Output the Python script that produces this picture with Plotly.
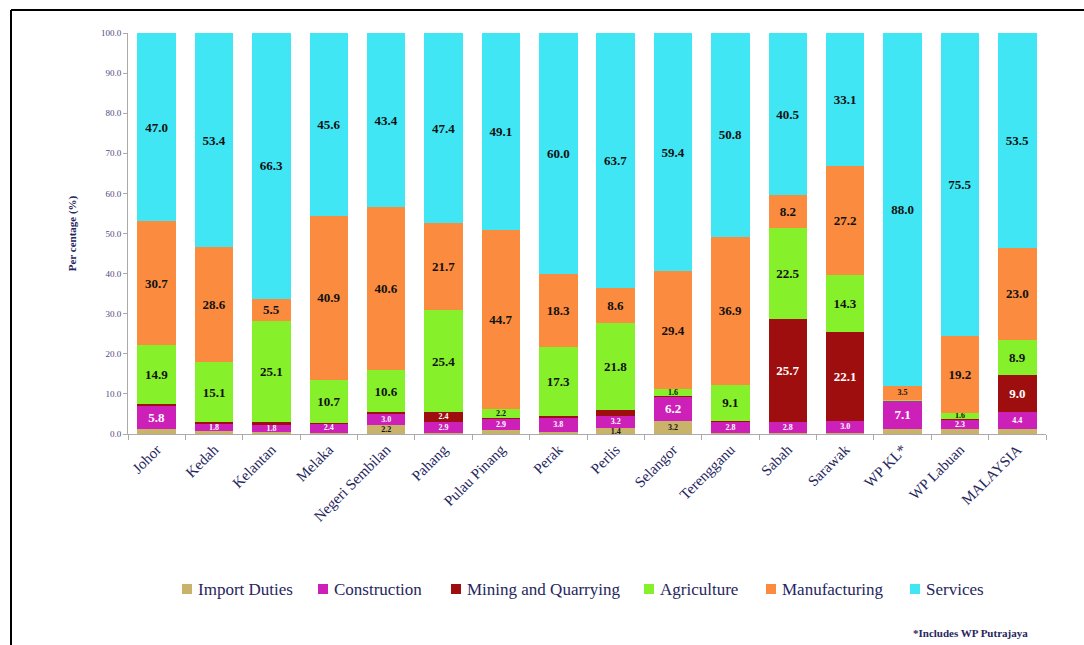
import plotly.graph_objects as go

states = ["Johor", "Kedah", "Kelantan", "Melaka", "Negeri Sembilan", "Pahang",
          "Pulau Pinang", "Perak", "Perlis", "Selangor", "Terengganu", "Sabah",
          "Sarawak", "WP KL*", "WP Labuan", "MALAYSIA"]

import_duties = [1.2, 0.7, 0.5, 0.3, 2.2, 0.2, 1.0, 0.4, 1.4, 3.2, 0.3, 0.3, 0.3, 1.3, 1.2, 1.2]
construction  = [5.8, 1.8, 1.8, 2.4, 3.0, 2.9, 2.9, 3.8, 3.2, 6.2, 2.8, 2.8, 3.0, 7.1, 2.3, 4.4]
mining        = [0.4, 0.4, 0.8, 0.1, 0.2, 2.4, 0.1, 0.2, 1.3, 0.2, 0.1, 25.7, 22.1, 0.0, 0.2, 9.0]
agriculture   = [14.9, 15.1, 25.1, 10.7, 10.6, 25.4, 2.2, 17.3, 21.8, 1.6, 9.1, 22.5, 14.3, 0.1, 1.6, 8.9]
manufacturing = [30.7, 28.6, 5.5, 40.9, 40.6, 21.7, 44.7, 18.3, 8.6, 29.4, 36.9, 8.2, 27.2, 3.5, 19.2, 23.0]
services      = [47.0, 53.4, 66.3, 45.6, 43.4, 47.4, 49.1, 60.0, 63.7, 59.4, 50.8, 40.5, 33.1, 88.0, 75.5, 53.5]

series_names = ["Import Duties", "Construction", "Mining and Quarrying",
                "Agriculture", "Manufacturing", "Services"]
series_values = [import_duties, construction, mining, agriculture, manufacturing, services]

# styling (kept apart from data)
colors = ["#C9B36A", "#CC20B8", "#9E0E0E", "#86F02A", "#FB8B3E", "#40E6F4"]
text_colors = ["#111111", "#FFFFFF", "#FFFFFF", "#111111", "#111111", "#111111"]
legend_marker_px = [182, 318, 451, 644, 766, 910]

SERIF = "Liberation Serif"
NAVY = "#26265e"

fig = go.Figure()
for name, vals, color, tcolor in zip(series_names, series_values, colors, text_colors):
    texts = [f"{v:.1f}" if v >= 1.4 else "" for v in vals]
    sizes = [13 if v >= 5 else 8 for v in vals]
    fig.add_trace(go.Bar(
        name=name, x=states, y=vals, marker=dict(color=color, line=dict(width=0)),
        text=texts, textposition="inside", insidetextanchor="middle",
        textangle=0, constraintext="none",
        textfont=dict(family=SERIF, color=tcolor, size=sizes, weight="bold"),
        hoverinfo="x+y+name", showlegend=False,
    ))

W, H = 1084, 645
ml, mr, mt, mb = 128, 38, 33, 211
pw, ph = W - ml - mr, H - mt - mb

def px_x(p):
    return (p - ml) / pw

def px_y(p):
    return 1 - (p - mt) / ph

fig.update_layout(
    barmode="stack", bargap=0.33,
    width=W, height=H,
    margin=dict(l=ml, r=mr, t=mt, b=mb),
    paper_bgcolor="white", plot_bgcolor="white",
    font=dict(family=SERIF, color=NAVY),
    xaxis=dict(tickangle=-45, tickfont=dict(family=SERIF, size=15, color=NAVY),
               showline=True, linecolor="#aaaaaa", linewidth=1,
               ticks="outside", tickson="boundaries", ticklen=5, tickcolor="#aaaaaa",
               showgrid=False),
    yaxis=dict(range=[0, 100], dtick=10, tickformat=".1f",
               tickfont=dict(family=SERIF, size=9, color="#4a4a80"),
               showline=True, linecolor="#aaaaaa", linewidth=1,
               ticks="outside", ticklen=4, tickcolor="#aaaaaa", showgrid=False, zeroline=False,
               title=dict(text="Per centage (%)", font=dict(family=SERIF, size=11, color=NAVY, weight="bold"),
                          standoff=22)),
    showlegend=False,
)

# legend drawn as marker squares + serif labels
LY = 589
for name, color, mx in zip(series_names, colors, legend_marker_px):
    fig.add_shape(type="rect", xref="paper", yref="paper",
                  x0=px_x(mx), x1=px_x(mx + 10), y0=px_y(LY + 5), y1=px_y(LY - 5),
                  fillcolor=color, line=dict(width=0))
    fig.add_annotation(text=name, xref="paper", yref="paper",
                       x=px_x(mx + 14), y=px_y(LY), xanchor="left", yanchor="middle",
                       showarrow=False, font=dict(family=SERIF, size=17, color=NAVY))

fig.add_annotation(text="*Includes WP Putrajaya", xref="paper", yref="paper",
                   x=px_x(1030), y=px_y(633), xanchor="right", yanchor="middle",
                   showarrow=False, font=dict(family=SERIF, size=11, color=NAVY, weight="bold"))

fig.add_shape(type="line", xref="paper", yref="paper", x0=px_x(11), x1=px_x(11),
              y0=px_y(10), y1=px_y(645), line=dict(color="black", width=2))
fig.add_shape(type="line", xref="paper", yref="paper", x0=px_x(11), x1=px_x(1084),
              y0=px_y(10), y1=px_y(10), line=dict(color="black", width=2))

fig.write_html("out.html")
